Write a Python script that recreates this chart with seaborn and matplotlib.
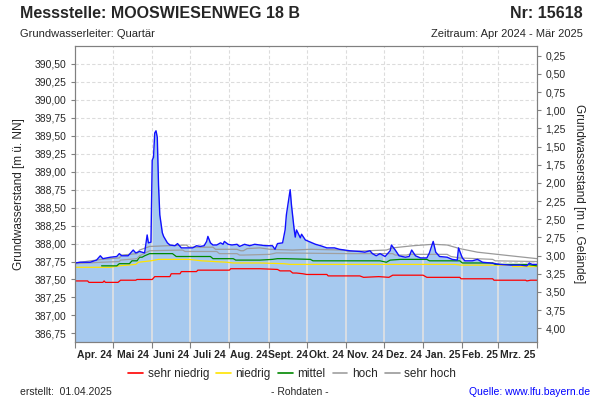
import matplotlib
matplotlib.use("Agg")
import matplotlib.pyplot as plt
import matplotlib.dates as mdates
from matplotlib.lines import Line2D
from matplotlib.ticker import FuncFormatter, FixedLocator
import seaborn as sns
import pandas as pd
import numpy as np

sns.set_theme(style="white")
plt.rcParams["font.family"] = ["Liberation Sans", "DejaVu Sans"]

# Tage ab 01.04.2024 und Grundwasserstand [m ü. NN]
tage_pegel = [0, 4, 12, 17, 20, 22, 28, 33, 35, 37, 42, 46, 48, 51, 55, 57, 58, 60, 61, 62,
              63, 64, 65, 66, 67, 69, 70, 73, 75, 79, 81, 84, 89, 93, 96, 99, 102, 104, 105, 107,
              109, 112, 115, 117, 118, 121, 124, 128, 130, 134, 138, 142, 146, 151, 156, 158, 160, 164, 166, 167,
              170, 171, 173, 174, 175, 178, 179, 182, 186, 190, 194, 199, 205, 209, 217, 225, 229, 233, 235, 238,
              241, 245, 249, 250, 253, 256, 261, 264, 266, 269, 273, 278, 280, 283, 285, 288, 294, 298, 302, 303,
              306, 308, 314, 318, 322, 328, 336, 344, 352, 357, 359, 361, 365]
pegel = [387.73, 387.74, 387.74, 387.77, 387.83, 387.79, 387.81, 387.82, 387.86, 387.83, 387.83, 387.91, 387.87, 387.89, 387.87, 388.12, 388.01, 388.02, 389.16, 389.20,
         389.54, 389.57, 389.48, 388.81, 388.40, 388.15, 388.10, 388.01, 387.98, 387.97, 388.00, 387.94, 387.94, 387.94, 387.97, 387.96, 387.97, 388.03, 388.10, 388.01,
         387.98, 387.98, 388.01, 387.99, 388.03, 387.99, 387.98, 387.99, 387.96, 387.99, 387.97, 387.99, 387.98, 387.97, 387.97, 387.92, 388.00, 388.01, 388.19, 388.40,
         388.75, 388.54, 388.22, 388.09, 388.19, 388.08, 388.13, 388.05, 388.02, 387.99, 387.97, 387.94, 387.94, 387.92, 387.90, 387.89, 387.88, 387.90, 387.86, 387.83,
         387.86, 387.82, 387.90, 387.98, 387.91, 387.83, 387.81, 387.82, 387.91, 387.83, 387.80, 387.80, 387.87, 388.03, 387.88, 387.82, 387.81, 387.78, 387.77, 387.94,
         387.80, 387.76, 387.76, 387.78, 387.74, 387.73, 387.71, 387.70, 387.70, 387.69, 387.73, 387.71, 387.71]

tage_sehr_niedrig = [0, 10, 11, 22, 23, 24, 34, 36, 48, 49, 61, 63, 75, 76, 83, 84, 96, 97, 122, 123,
                     146, 160, 162, 170, 172, 175, 180, 183, 199, 200, 225, 228, 240, 248, 251, 275, 278, 304, 305, 330,
                     331, 356, 357, 360, 365]
sehr_niedrig = [387.48, 387.48, 387.46, 387.46, 387.48, 387.46, 387.46, 387.49, 387.49, 387.50, 387.50, 387.54, 387.54, 387.58, 387.58, 387.61, 387.61, 387.63, 387.63, 387.65,
                387.65, 387.64, 387.62, 387.62, 387.59, 387.59, 387.58, 387.57, 387.57, 387.55, 387.55, 387.53, 387.54, 387.53, 387.56, 387.56, 387.53, 387.53, 387.51, 387.51,
                387.49, 387.49, 387.48, 387.49, 387.49]

tage_niedrig = [0, 28, 35, 48, 50, 60, 66, 90, 100, 120, 125, 146, 165, 170, 300, 305, 345, 346, 365]
niedrig = [387.67, 387.67, 387.69, 387.71, 387.74, 387.76, 387.78, 387.78, 387.76, 387.74, 387.73, 387.73, 387.72, 387.71, 387.71, 387.70, 387.70, 387.68, 387.68]

tage_mittel = [21, 33, 35, 43, 45, 49, 51, 53, 55, 59, 77, 80, 107, 109, 125, 127, 146, 156, 160, 166,
               186, 188, 241, 246, 249, 257, 278, 280, 304, 306, 330, 332, 357, 365]
mittel = [387.69, 387.69, 387.72, 387.72, 387.76, 387.76, 387.81, 387.81, 387.83, 387.86, 387.86, 387.82, 387.82, 387.79, 387.79, 387.77, 387.77, 387.78, 387.79, 387.79,
          387.78, 387.76, 387.76, 387.74, 387.77, 387.78, 387.78, 387.76, 387.76, 387.73, 387.73, 387.71, 387.71, 387.69]

tage_hoch = [0, 21, 35, 36, 49, 51, 59, 85, 87, 112, 114, 128, 130, 133, 154, 159, 217, 251, 253, 262,
             264, 294, 297, 304, 330, 332, 365]
hoch = [387.72, 387.74, 387.75, 387.77, 387.79, 387.83, 387.90, 387.91, 387.89, 387.89, 387.86, 387.86, 387.84, 387.84, 387.85, 387.87, 387.86, 387.86, 387.84, 387.84,
        387.85, 387.85, 387.82, 387.80, 387.78, 387.76, 387.75]

tage_sehr_hoch = [0, 21, 35, 37, 49, 51, 59, 88, 90, 109, 111, 128, 131, 133, 136, 146, 154, 172, 186, 212,
                  216, 231, 246, 251, 267, 283, 294, 304, 318, 344, 365]
sehr_hoch = [387.73, 387.78, 387.80, 387.84, 387.86, 387.91, 387.96, 387.98, 387.95, 387.95, 387.92, 387.92, 387.90, 387.90, 387.93, 387.94, 387.92, 387.91, 387.92, 387.91,
             387.89, 387.90, 387.91, 387.94, 387.97, 387.99, 387.98, 387.93, 387.88, 387.83, 387.79]

klassen = ["sehr niedrig", "niedrig", "mittel", "hoch", "sehr hoch"]
farben = ["#ff0000", "#ffe400", "#008800", "#a0a0a0", "#9a9a9a"]
monate = ["Apr. 24", "Mai 24", "Juni 24", "Juli 24", "Aug. 24", "Sept. 24", "Okt. 24",
          "Nov. 24", "Dez. 24", "Jan. 25", "Feb. 25", "Mrz. 25"]

start = pd.Timestamp("2024-04-01")


def datum(tage):
    return start + pd.to_timedelta(tage, unit="D")


ref = pd.concat([
    pd.DataFrame({"datum": datum(tage_sehr_niedrig), "wert": sehr_niedrig, "klasse": "sehr niedrig"}),
    pd.DataFrame({"datum": datum(tage_niedrig), "wert": niedrig, "klasse": "niedrig"}),
    pd.DataFrame({"datum": datum(tage_mittel), "wert": mittel, "klasse": "mittel"}),
    pd.DataFrame({"datum": datum(tage_hoch), "wert": hoch, "klasse": "hoch"}),
    pd.DataFrame({"datum": datum(tage_sehr_hoch), "wert": sehr_hoch, "klasse": "sehr hoch"}),
], ignore_index=True)
gw = pd.DataFrame({"datum": datum(tage_pegel), "wert": pegel})

fig = plt.figure(figsize=(6, 4), dpi=100)
ax = fig.add_axes([75 / 600, 1 - 342 / 400, 462 / 600, 296 / 400])
ymin, ymax = 386.63, 390.75
ax.set_ylim(ymin, ymax)
ax.set_xlim(start, pd.Timestamp("2025-04-01"))

# Gitter
monatsanfang = pd.date_range("2024-04-01", "2025-04-01", freq="MS")
for y in np.arange(386.75, 390.51, 0.25):
    ax.axhline(y, color="#dcdcdc", lw=0.8, ls=(0, (3, 2)), zorder=0)
for m in monatsanfang[1:-1]:
    ax.axvline(m, color="#dcdcdc", lw=0.8, ls=(0, (3, 2)), zorder=0)

flaeche = ax.fill_between(gw["datum"], gw["wert"], ymin, color="#a6c9ef", lw=0, zorder=1)
clip = flaeche.get_paths()[0]
for m in monatsanfang[1:-1]:
    vl = ax.axvline(m, color="#e2e2e2", lw=1.2, zorder=1.5)
    vl.set_clip_path(clip, ax.transData)

for name, farbe in zip(klassen, farben):
    sns.lineplot(data=ref[ref["klasse"] == name], x="datum", y="wert", color=farbe,
                 estimator=None, linewidth=0.9, legend=False, ax=ax, zorder=2)
sns.lineplot(data=gw, x="datum", y="wert", color="#1010ff", estimator=None, linewidth=1.0,
             legend=False, ax=ax, zorder=3)

ax.set_xlabel("")
ax.set_ylabel("Grundwasserstand [m ü. NN]", fontsize=8.5, labelpad=7)
fmt = FuncFormatter(lambda v, p: f"{v:.2f}".replace(".", ","))
ax.yaxis.set_major_locator(FixedLocator(np.arange(386.75, 390.51, 0.25)))
ax.yaxis.set_major_formatter(fmt)
ax.tick_params(axis="y", labelsize=7.5, length=3, width=0.8, color="#808080", left=True, pad=3)

ax.xaxis.set_major_locator(FixedLocator(mdates.date2num(monatsanfang)))
ax.xaxis.set_major_formatter(plt.NullFormatter())
mitte = monatsanfang[:-1] + (monatsanfang[1:] - monatsanfang[:-1]) / 2
ax.set_xticks(mdates.date2num(mitte), labels=monate, minor=True)
ax.tick_params(axis="x", which="major", length=4, width=0.8, color="#808080", bottom=True)
ax.tick_params(axis="x", which="minor", length=0, labelsize=7.5, pad=6)
for t in ax.get_xticklabels(minor=True):
    t.set_fontweight("bold")

for s in ax.spines.values():
    s.set_color("#808080")
    s.set_linewidth(0.8)

ax2 = ax.twinx()
ax2.set_ylim(4.19, 0.117)
ax2.yaxis.set_major_locator(FixedLocator(np.arange(0.25, 4.01, 0.25)))
ax2.yaxis.set_major_formatter(fmt)
ax2.tick_params(axis="y", labelsize=7.5, length=3, width=0.8, color="#808080", right=True, pad=3)
ax2.set_ylabel("Grundwasserstand [m u. Gelände]", fontsize=8.5, rotation=-90, labelpad=14)
for s in ax2.spines.values():
    s.set_color("#808080")
    s.set_linewidth(0.8)

# Kopf und Fuß
fig.text(20 / 600, 1 - 14 / 400, "Messstelle: MOOSWIESENWEG 18 B", fontsize=11.5, fontweight="bold", va="center")
fig.text(583 / 600, 1 - 14 / 400, "Nr: 15618", fontsize=11.5, fontweight="bold", va="center", ha="right")
fig.text(20 / 600, 1 - 34 / 400, "Grundwasserleiter: Quartär", fontsize=8, va="center")
fig.text(583 / 600, 1 - 34 / 400, "Zeitraum: Apr 2024 - Mär 2025", fontsize=8, va="center", ha="right")

handles = [Line2D([], [], color=c, lw=1.2) for c in farben]
fig.legend(handles, klassen, loc="center", bbox_to_anchor=(0.487, 1 - 374 / 400), ncol=5, frameon=False,
           fontsize=8.5, handlelength=1.25, handletextpad=0.4, columnspacing=0.6)

fig.text(20 / 600, 1 - 392 / 400, "erstellt:  01.04.2025", fontsize=7.5, va="center")
fig.text(300 / 600, 1 - 392 / 400, "- Rohdaten -", fontsize=7.5, va="center", ha="center")
fig.text(590 / 600, 1 - 392 / 400, "Quelle: www.lfu.bayern.de", fontsize=7.5, va="center", ha="right", color="#0000ff")

fig.savefig("out.png", dpi=100)
